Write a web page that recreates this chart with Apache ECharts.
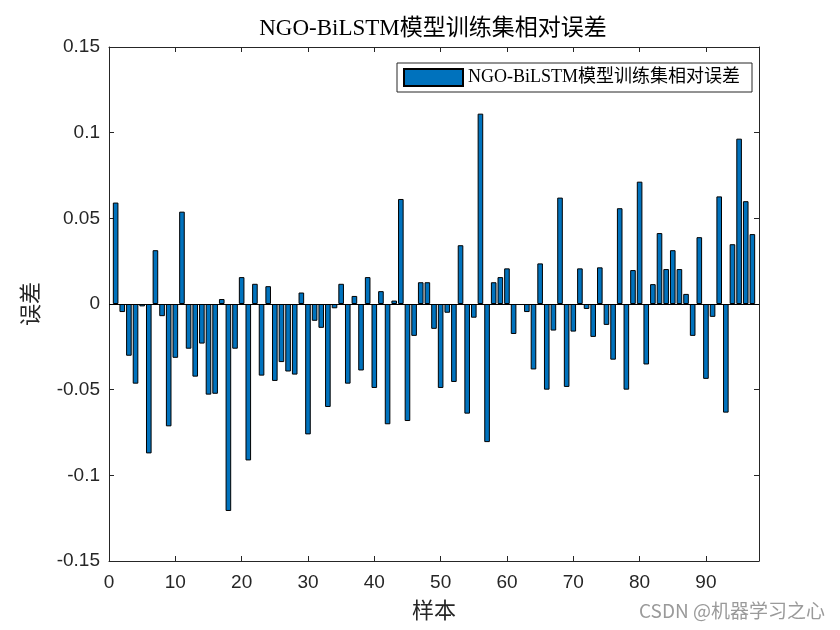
<!DOCTYPE html>
<html>
<head>
<meta charset="utf-8">
<script src="https://cdn.jsdelivr.net/npm/echarts@6/dist/echarts.min.js"></script>
<style>html,body{margin:0;padding:0;background:#fff}#c{width:840px;height:630px}</style>
</head>
<body>
<div id="c"></div>
<script>
var titleText = 'NGO-BiLSTM模型训练集相对误差';
var seriesName = 'NGO-BiLSTM模型训练集相对误差';
var xName = '样本';
var yName = '误差';
var samples = [];
for (var i = 1; i <= 97; i++) samples.push(i);
var errors = [
  0.0592, -0.0047, -0.0302, -0.0465, -0.0014, -0.0872, 0.0314, -0.0071, -0.0714, -0.0314,
  0.0539, -0.0261, -0.0424, -0.0231, -0.0529, -0.0524, 0.0029, -0.1208, -0.0261, 0.0157,
  -0.0913, 0.0118, -0.0418, 0.0104, -0.0449, -0.0339, -0.0394, -0.0412, 0.0067, -0.0761,
  -0.0098, -0.0139, -0.0601, -0.0025, 0.0118, -0.0465, 0.0047, -0.0388, 0.0157, -0.0490,
  0.0075, -0.0702, 0.0020, 0.0613, -0.0683, -0.0186, 0.0127, 0.0127, -0.0145, -0.0490,
  -0.0051, -0.0455, 0.0343, -0.0640, -0.0080, 0.1111, -0.0806, 0.0127, 0.0157, 0.0208,
  -0.0175, -0.0006, -0.0047, -0.0382, 0.0237, -0.0500, -0.0155, 0.0621, -0.0484, -0.0161,
  0.0208, -0.0029, -0.0192, 0.0214, -0.0122, -0.0325, 0.0559, -0.0500, 0.0198, 0.0714,
  -0.0353, 0.0116, 0.0414, 0.0204, 0.0314, 0.0204, 0.0059, -0.0186, 0.0390, -0.0437,
  -0.0075, 0.0628, -0.0634, 0.0349, 0.0965, 0.0600, 0.0408
];
var xTicks = [0, 10, 20, 30, 40, 50, 60, 70, 80, 90];
var yTicks = [-0.15, -0.1, -0.05, 0, 0.05, 0.1, 0.15];

var data = samples.map(function (s, k) { return [s, errors[k]]; });
var axisColor = '#262626';
var serif = '"Liberation Serif","Times New Roman","Noto Sans CJK SC",serif';
var sans = '"Liberation Sans",Arial,sans-serif';

var chart = echarts.init(document.getElementById('c'), null, {renderer: 'canvas'});
var baseX = {
  type: 'value', min: 0, max: 98, interval: 10,
  axisLine: {show: true, onZero: false, lineStyle: {color: axisColor, width: 1}},
  axisTick: {show: true, inside: true, length: 5, lineStyle: {color: axisColor}},
  splitLine: {show: false}
};
var baseY = {
  type: 'value', min: yTicks[0], max: yTicks[yTicks.length - 1], interval: 0.05,
  axisLine: {show: true, onZero: false, lineStyle: {color: axisColor, width: 1}},
  axisTick: {show: true, inside: true, length: 5, lineStyle: {color: axisColor}},
  splitLine: {show: false}
};
chart.setOption({
  animation: false,
  backgroundColor: '#fff',
  title: {
    text: titleText, left: 428, textAlign: 'center', top: 12,
    textStyle: {fontFamily: serif, fontSize: 23, fontWeight: 'normal', color: '#000'}
  },
  legend: {
    data: [{name: seriesName, icon: 'rect'}], left: 397, top: 63,
    orient: 'horizontal',
    itemWidth: 59, itemHeight: 17, itemGap: 5,
    padding: [5, 12, 5, 6],
    borderColor: axisColor, borderWidth: 1, backgroundColor: '#fff',
    textStyle: {fontFamily: serif, fontSize: 18, color: '#000'}
  },
  grid: {left: 109, right: 81, top: 47, bottom: 69, containLabel: false},
  xAxis: [
    Object.assign({}, baseX, {
      position: 'bottom', name: xName, nameLocation: 'middle', nameGap: 40,
      nameTextStyle: {fontFamily: serif, fontSize: 22, color: axisColor},
      axisLabel: {show: true, margin: 12, fontFamily: sans, fontSize: 19, color: axisColor,
        showMaxLabel: false,
        formatter: function (v) { return xTicks.indexOf(v) >= 0 ? String(v) : ''; }}
    }),
    Object.assign({}, baseX, {position: 'top', axisLabel: {show: false}})
  ],
  yAxis: [
    Object.assign({}, baseY, {
      position: 'left', name: yName, nameLocation: 'middle', nameGap: 66, nameRotate: 90,
      nameTextStyle: {fontFamily: serif, fontSize: 22, color: axisColor},
      axisLabel: {show: true, margin: 9, fontFamily: sans, fontSize: 19, color: axisColor,
        formatter: function (v) { return String(Math.round(v * 100) / 100); }}
    }),
    Object.assign({}, baseY, {position: 'right', axisLabel: {show: false}})
  ],
  graphic: [{
    type: 'text', left: 639, top: 601,
    style: {text: 'CSDN @机器学习之心', fontFamily: '"Noto Sans CJK SC",sans-serif', fontSize: 19, fill: '#9a9a9a'}
  }],
  series: [{
    name: seriesName, type: 'bar', xAxisIndex: 0, yAxisIndex: 0,
    data: data, barWidth: 5.6,
    itemStyle: {color: '#0072BD', borderColor: '#000', borderWidth: 1},
    markLine: {
      silent: true, symbol: 'none', label: {show: false},
      lineStyle: {color: '#000', width: 1, type: 'solid'},
      data: [{yAxis: 0}]
    }
  }]
});
</script>
</body>
</html>
